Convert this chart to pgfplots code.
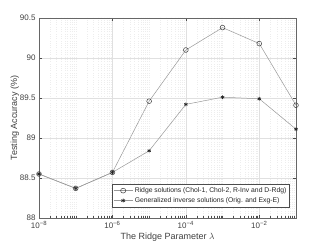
\documentclass[border=0pt]{standalone}
\usepackage{fontspec}
\setmainfont{Liberation Sans}
\usepackage{pgfplots}
\pgfplotsset{compat=1.18}
\begin{document}
\begin{tikzpicture}
\begin{axis}[
  scale only axis, width=257pt, height=200pt,
  xmode=log, xmin=1e-8, xmax=1e-1,
  ymin=88, ymax=90.5,
  xtick={1e-8,1e-6,1e-4,1e-2},
  xticklabels={10\textsuperscript{−8},10\textsuperscript{−6},10\textsuperscript{−4},10\textsuperscript{−2}},
  minor xtick={2e-8,3e-8,4e-8,5e-8,6e-8,7e-8,8e-8,9e-8,1e-7,2e-7,3e-7,4e-7,5e-7,6e-7,7e-7,8e-7,9e-7,
    2e-6,3e-6,4e-6,5e-6,6e-6,7e-6,8e-6,9e-6,1e-5,2e-5,3e-5,4e-5,5e-5,6e-5,7e-5,8e-5,9e-5,
    2e-4,3e-4,4e-4,5e-4,6e-4,7e-4,8e-4,9e-4,1e-3,2e-3,3e-3,4e-3,5e-3,6e-3,7e-3,8e-3,9e-3,
    2e-2,3e-2,4e-2,5e-2,6e-2,7e-2,8e-2,9e-2},
  ytick={88,88.5,89,89.5,90,90.5},
  yticklabels={88,88.5,89,89.5,90,90.5},
  tick align=inside, major tick length=3pt, minor tick length=1.5pt,
  tick style={black!70, line width=0.4pt},
  grid=both,
  major grid style={black!12, line width=0.4pt},
  minor grid style={black!7, line width=0.3pt, dotted},
  axis line style={black!60, line width=0.5pt},
  ticklabel style={font=\fontsize{8}{9}\selectfont, text=black!75},
  xlabel={The Ridge Parameter $\lambda$},
  ylabel={Testing Accuracy (\%)},
  label style={font=\fontsize{9}{10}\selectfont, text=black!75},
  xlabel style={yshift=3pt},
  ylabel style={yshift=-6pt},
  legend style={at={(0.975,0.055)}, anchor=south east, font=\fontsize{6.8}{7.8}\selectfont,
    draw=black!70, line width=0.4pt, inner sep=1pt, row sep=-0.5pt, text=black!85},
  legend cell align=left,
  legend image post style={xscale=1.1},
]
\addplot[black!40, line width=0.5pt, mark=o, mark size=2.4pt, mark options={draw=black!75, solid}]
coordinates {(1e-8,88.55) (1e-7,88.37) (1e-6,88.57) (1e-5,89.46) (1e-4,90.10) (1e-3,90.38) (1e-2,90.18) (1e-1,89.41)};
\addlegendentry{Ridge solutions (Chol-1, Chol-2, R-Inv and D-Rdg)}
\addplot[black!40, line width=0.5pt, mark=asterisk, mark size=1.9pt, mark options={draw=black!85, solid, line width=0.7pt}]
coordinates {(1e-8,88.55) (1e-7,88.37) (1e-6,88.57) (1e-5,88.84) (1e-4,89.42) (1e-3,89.51) (1e-2,89.49) (1e-1,89.11)};
\addlegendentry{Generalized inverse solutions (Orig. and Exg-E)}
\coordinate (box) at (rel axis cs:0,0);
\end{axis}
\pgfresetboundingbox
\path[use as bounding box] (box) ++(-39pt,-27pt) rectangle ++(327pt,245pt);
\end{tikzpicture}
\end{document}
